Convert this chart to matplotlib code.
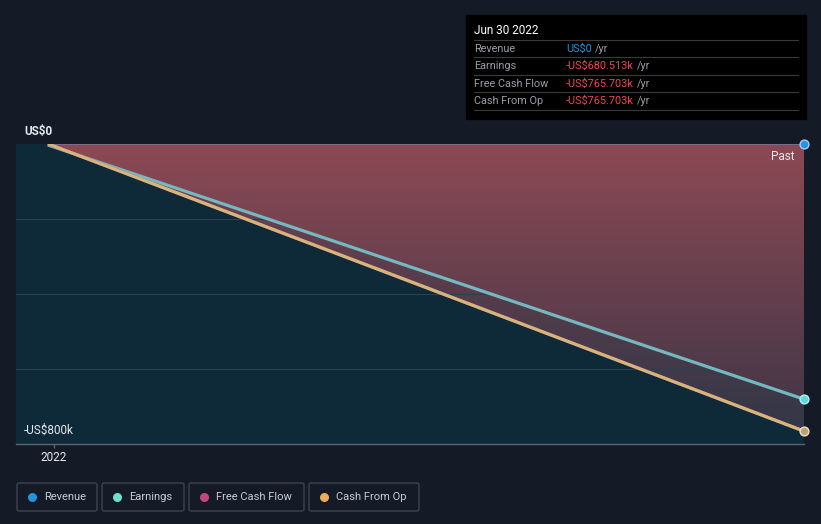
import numpy as np
import matplotlib.pyplot as plt
import matplotlib.dates as mdates
from matplotlib.patches import FancyBboxPatch, Rectangle

plt.rcParams['font.family'] = ['Roboto', 'DejaVu Sans']

# data (US$ thousands)
dates = np.array(['2021-12-31', '2022-06-30'], dtype='datetime64[D]')
revenue = [0, 0]
earnings = [-4, -680.513]
free_cash_flow = [-1, -765.703]
cash_from_op = [-1, -765.703]

series_names = ['Revenue', 'Earnings', 'Free Cash Flow', 'Cash From Op']
series_colors = ['#2394df', '#6ce0d4', '#c4467e', '#e8ae5c']
tooltip_date = 'Jun 30 2022'
tooltip_values = ['US$0', '-US$680.513k', '-US$765.703k', '-US$765.703k']

W, H = 821, 524
BG = '#151b26'

fig = plt.figure(figsize=(W / 100, H / 100), dpi=100, facecolor=BG)

# main chart area in pixels
left, right, top, bottom = 16, 804, 144, 444
ax = fig.add_axes([left / W, 1 - bottom / H, (right - left) / W, (bottom - top) / H])
ax.set_facecolor('#0e2a39')

x = mdates.date2num(dates)
x0 = mdates.date2num(np.datetime64('2021-12-23'))
ax.set_xlim(x0, x[-1])
ax.set_ylim(-800, 0)


def gradient_fill(y_line, c_top, c_bot, y_low, z):
    poly = ax.fill_between(x, 0, y_line, color='none', lw=0, zorder=z)
    g = np.linspace(0, 1, 256).reshape(-1, 1)
    ct = np.array(c_top) / 255
    cb = np.array(c_bot) / 255
    img = ct + (cb - ct) * g[:, :, None]
    im = ax.imshow(img, extent=[x[0], x[-1], y_low, 0], aspect='auto',
                   origin='upper', zorder=z)
    im.set_clip_path(poly.get_paths()[0], transform=ax.transData)


# band between zero and the cash-flow line, then red area down to earnings
gradient_fill(free_cash_flow, (0x7a, 0x42, 0x50), (0x33, 0x37, 0x47), min(free_cash_flow), 1)
gradient_fill(earnings, (0x8c, 0x49, 0x54), (0x48, 0x38, 0x48), min(earnings), 2)

# grid lines
for gy in [-200, -400, -600]:
    ax.axhline(gy, color='#2b3f4e', lw=0.8, zorder=1.5)

# lines
ax.plot(x, revenue, color='#7c6a8c', lw=1.5, zorder=4)
ax.plot(x, earnings, color='#74b8c0', lw=2.3, zorder=5)
ax.plot(x, free_cash_flow, color=series_colors[2], lw=2.3, zorder=5)
ax.plot(x, cash_from_op, color='#d4b67a', lw=2.3, zorder=6)

# end markers
ax.scatter([x[-1]], [revenue[-1]], s=40, color=series_colors[0], edgecolor='#9fd0f5',
           lw=1, zorder=8, clip_on=False)
ax.scatter([x[-1]], [earnings[-1]], s=40, color='#5fd8d8', edgecolor='#b8f0f0',
           lw=1, zorder=8, clip_on=False)
ax.scatter([x[-1]], [cash_from_op[-1]], s=40, color='#c0a070', edgecolor='#e8e0d0',
           lw=1, zorder=8, clip_on=False)

for s in ['top', 'right', 'left']:
    ax.spines[s].set_visible(False)
ax.spines['bottom'].set_color('#5c6270')
ax.spines['bottom'].set_linewidth(1)
ax.set_yticks([])
ax.xaxis.set_major_locator(mdates.YearLocator())
ax.xaxis.set_major_formatter(mdates.DateFormatter('%Y'))
ax.tick_params(axis='x', colors='#5c6270', length=3, width=1, labelsize=8.5,
               labelcolor='#e6e8ec', pad=2)

ax.text(0.01, -763, '-US$800k', color='#e6e8ec', fontsize=8.5, va='center',
        transform=ax.get_yaxis_transform(), zorder=9)
ax.text(0.9875, -32, 'Past', color='#e6e8ec', fontsize=8.5, ha='right', va='center',
        transform=ax.get_yaxis_transform(), zorder=9)

# overlay in pixel coordinates for labels, tooltip and legend
ov = fig.add_axes([0, 0, 1, 1], facecolor='none')
ov.set_xlim(0, W)
ov.set_ylim(H, 0)
ov.axis('off')

ov.text(24, 132, 'US$0', color='#e6e8ec', fontsize=8.5, fontweight='bold', va='center')

# tooltip
ov.add_patch(Rectangle((466, 15), 340, 104, color='#000000', zorder=1))
ov.text(474, 31, tooltip_date, color='#ffffff', fontsize=8.5, va='center', zorder=2)
row_y = [49, 66, 84, 101]
for i, (name, val) in enumerate(zip(series_names, tooltip_values)):
    ov.plot([474, 798], [row_y[i] - 9, row_y[i] - 9], color='#3a3a3a', lw=0.8, zorder=2)
    ov.text(474, row_y[i], name, color='#9a9ea6', fontsize=7.8, va='center', zorder=2)
    vcol = '#2394df' if i == 0 else '#f0484e'
    t = ov.text(566, row_y[i], val, color=vcol, fontsize=7.8, va='center', zorder=2)
    fig.canvas.draw()
    bb = t.get_window_extent()
    ov.text(566 + bb.width + 3, row_y[i], '/yr', color='#9a9ea6', fontsize=7.8,
            va='center', zorder=2)
ov.plot([474, 798], [110, 110], color='#3a3a3a', lw=0.8, zorder=2)

# legend
boxes = [(17, 80), (102, 82), (189, 115), (309, 110)]
for (bx, bw), name, col in zip(boxes, series_names, series_colors):
    ov.add_patch(FancyBboxPatch((bx, 483), bw, 28, boxstyle='round,pad=0,rounding_size=2',
                                fc='none', ec='#3c4250', lw=1))
    ov.scatter([bx + 15], [497], s=30, color=col, zorder=3)
    ov.text(bx + 27, 497, name, color='#c8ccd4', fontsize=8, va='center')

fig.savefig('out.png', dpi=100, facecolor=BG)
